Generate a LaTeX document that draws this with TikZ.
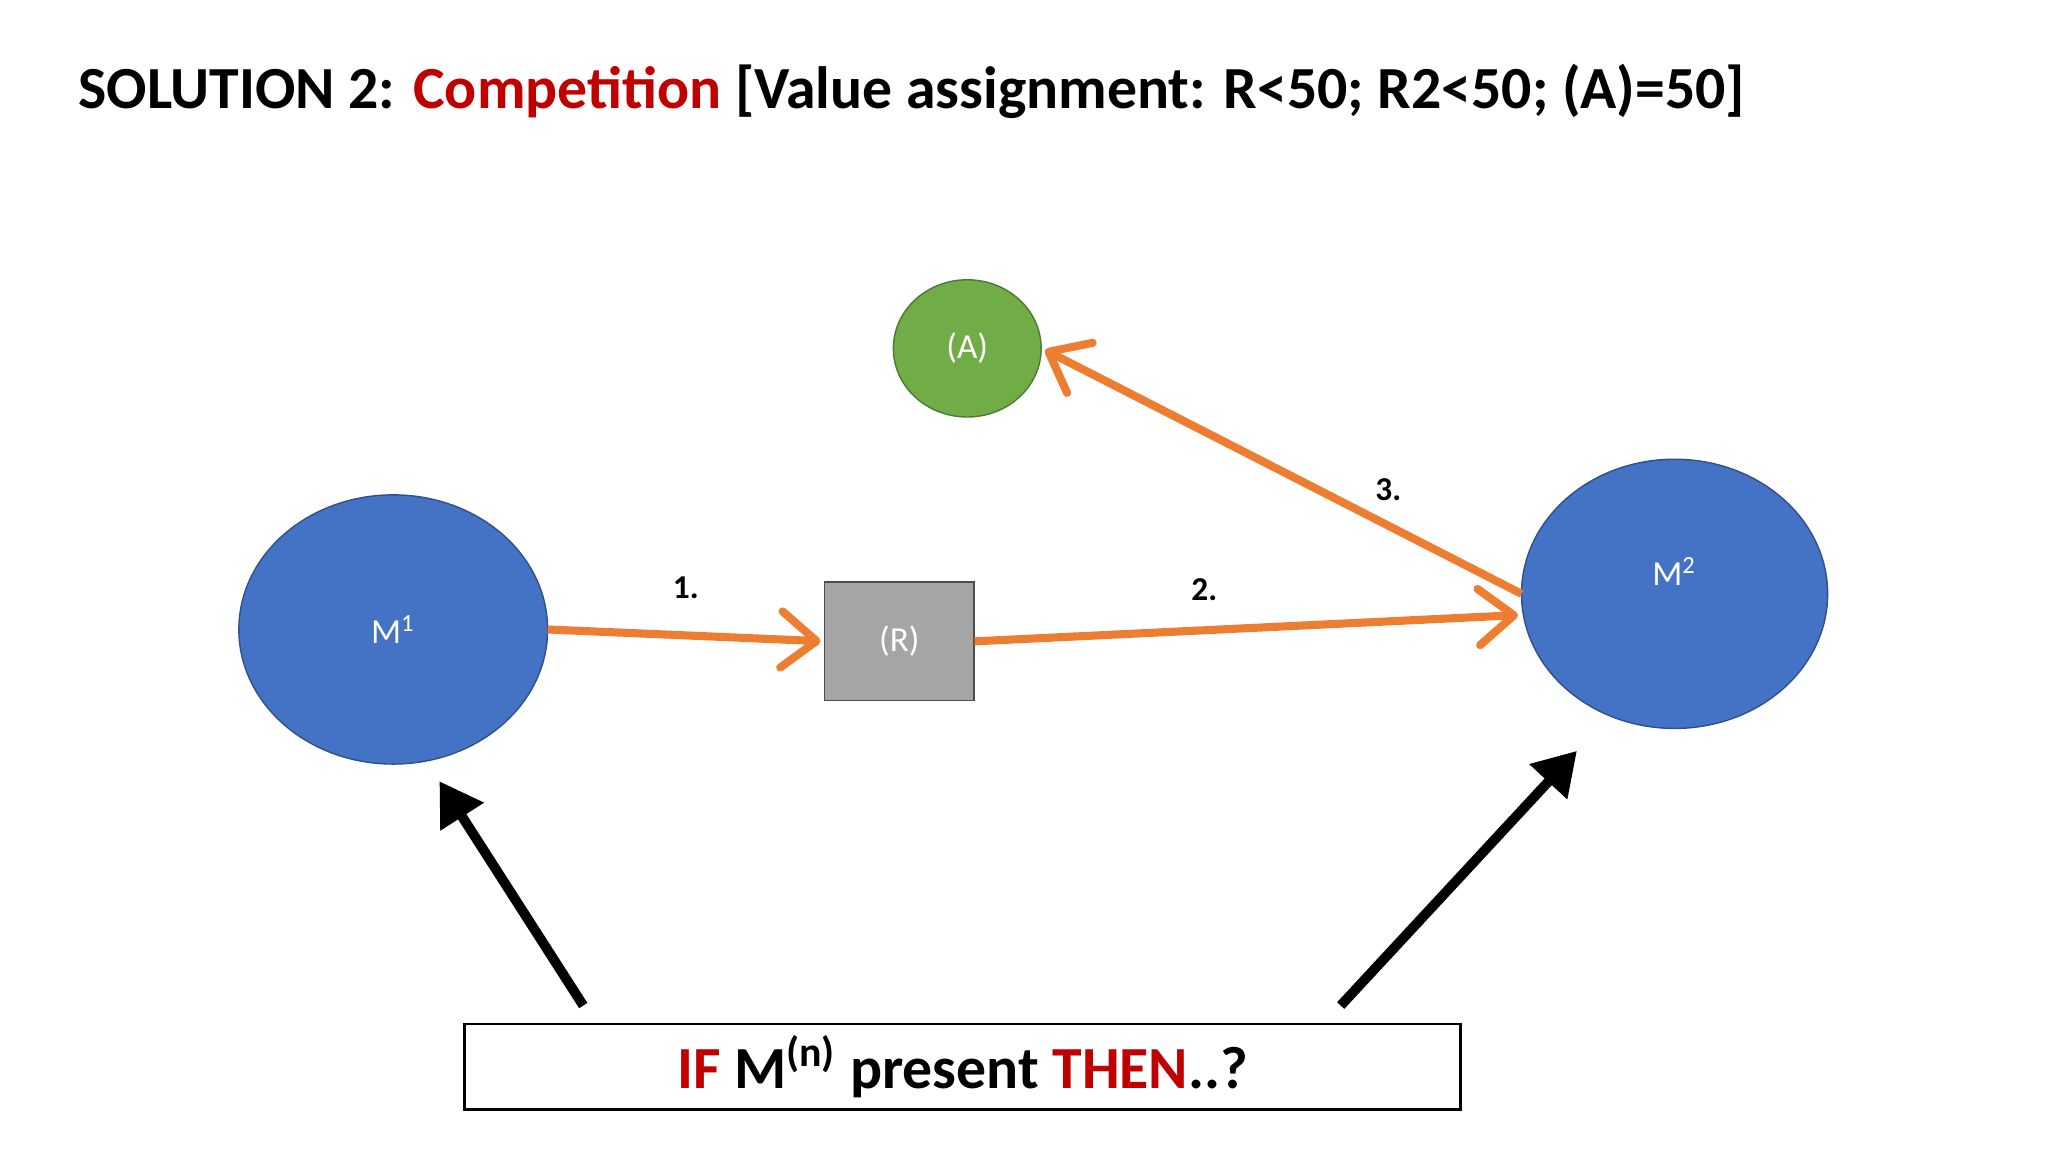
\documentclass[tikz,border=0pt]{standalone}
\usepackage{fontspec}
\setmainfont{Carlito}
\usetikzlibrary{shapes.geometric,arrows.meta}
\definecolor{oran}{HTML}{ED7D31}
\definecolor{blu}{HTML}{4472C4}
\definecolor{grn}{HTML}{70AD47}
\definecolor{gry}{HTML}{A5A5A5}
\definecolor{dred}{HTML}{C00000}
\begin{document}
\begin{tikzpicture}[x=0.0132cm,y=-0.0132cm,
  circ/.style={ellipse,draw=blu!70!black,fill=blu,text=white,font=\fontsize{10}{12}\selectfont,inner sep=0},
  orr/.style={draw=oran,line width=2.3pt,-{Straight Barb[length=10pt,width=16pt,line width=2.3pt,round]},shorten >=1pt},
  blk/.style={draw=black,line width=2.8pt,-{Triangle[length=12pt,width=14pt]}},
  num/.style={font=\bfseries\fontsize{9.5}{11}\selectfont}]
\useasboundingbox (0,0) rectangle (1552,873);
\node[anchor=base west,font=\bfseries\fontsize{17}{20}\selectfont] (title) at (50,82) {SOLUTION 2: \textcolor{dred}{Competition} [Value assignment: R<50; R2<50; (A)=50]};
\node[circ,minimum width={112*0.0132cm},minimum height={104*0.0132cm},draw=grn!70!black,fill=grn] (A) at (733,264) {(A)};
\node[circ,minimum width={234*0.0132cm},minimum height={204*0.0132cm}] (M1) at (298,477) {M\textsuperscript{1}};
\node[circ,minimum width={232*0.0132cm},minimum height={204*0.0132cm}] (M2) at (1269,450) {};
\node[text=white,font=\fontsize{10}{12}\selectfont] (M2l) at (1269,433) {M\textsuperscript{2}};
\node[draw=gray!60!black,fill=gry,text=white,minimum width={113*0.0132cm},minimum height={90*0.0132cm},inner sep=0,font=\fontsize{10}{12}\selectfont] (R) at (681.5,486) {(R)};
\coordinate (m1e) at (415,477);
\coordinate (m2w) at (1153,450);
\draw[orr] (m1e) -- (R.west) node[num,midway,above=6pt] {1.};
\draw[orr] (R.east) -- ([yshift=-16*0.0132cm]m2w) node[num,pos=0.42,above=4pt] {2.};
\draw[orr] (m2w) -- (A.east) node[num,pos=0.33,above right=-1pt] {3.};
\node[draw=black,line width=0.8pt,minimum width={755*0.0132cm},minimum height={65*0.0132cm},inner sep=0,font=\bfseries\fontsize{17}{20}\selectfont] (box) at (729.5,808.5) {\textcolor{dred}{IF} M\textsuperscript{(n)} present \textcolor{dred}{THEN}..?};
\coordinate (b1) at (442,762);
\coordinate (b2) at (1016,762);
\coordinate (t1) at (333,592);
\coordinate (t2) at (1195,569);
\draw[blk] (b1) -- (t1);
\draw[blk] (b2) -- (t2);
\end{tikzpicture}
\end{document}
